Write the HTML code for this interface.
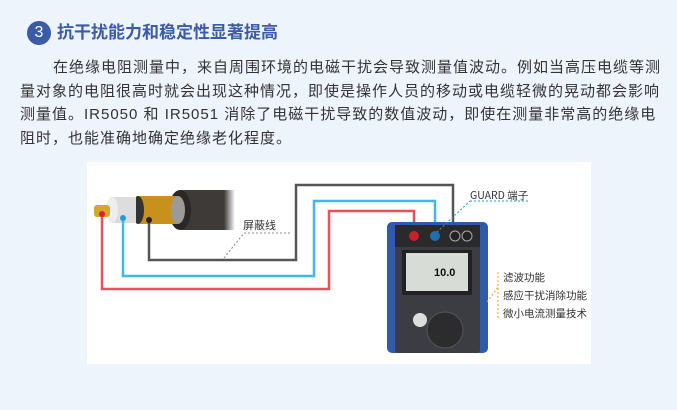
<!DOCTYPE html>
<html><head><meta charset="utf-8"><style>
body{margin:0;width:677px;height:410px;background:#eef4fc;font-family:"Liberation Sans","Noto Sans CJK SC",sans-serif;position:relative;overflow:hidden}
.c{position:absolute;left:27px;top:21px;width:24px;height:24px;border-radius:50%;background:#3b5aa8;color:#fff;font-size:16px;text-align:center;line-height:24px}
.t{position:absolute;left:57px;top:19px;font-size:17px;font-weight:bold;color:#3b5aa8;line-height:28px}
.p{position:absolute;left:20px;top:56px;font-size:15px;line-height:23.7px;color:#333;letter-spacing:1.0px;white-space:nowrap}
.panel{position:absolute;left:87px;top:162px;width:504px;height:202px;background:#fff}
</style></head><body>
<div class="c">3</div>
<div class="t">抗干扰能力和稳定性显著提高</div>
<div class="p"><span style="display:inline-block;width:33px"></span>在绝缘电阻测量中，来自周围环境的电磁干扰会导致测量值波动。例如当高压电缆等测<br>量对象的电阻很高时就会出现这种情况，即使是操作人员的移动或电缆轻微的晃动都会影响<br>测量值。IR5050 和 IR5051 消除了电磁干扰导致的数值波动，即使在测量非常高的绝缘电<br>阻时，也能准确地确定绝缘老化程度。</div>
<div class="panel"></div>
<svg width="677" height="410" style="position:absolute;left:0;top:0">
<defs><linearGradient id="fade" x1="0" x2="1"><stop offset="0.8" stop-color="#3d3a38"/><stop offset="1" stop-color="#3d3a38" stop-opacity="0"/></linearGradient></defs>
<rect x="180" y="190" width="55" height="40" fill="url(#fade)"/>
<ellipse cx="180" cy="210" rx="11" ry="20" fill="#2a2826"/>
<rect x="138" y="196" width="40" height="28" fill="#c8901c"/>
<ellipse cx="178" cy="210" rx="7" ry="14" fill="#9a9a9a"/>
<ellipse cx="138" cy="210" rx="6" ry="14" fill="#333"/>
<rect x="112" y="197" width="24" height="26" fill="#ddd"/>
<ellipse cx="112" cy="210" rx="6" ry="13" fill="#eee"/>
<rect x="94" y="205" width="16" height="12" rx="3" fill="#d4a92a"/>
<g fill="none" stroke-width="2.5">
<polyline points="149,222 149,260 296,260 296,185 453,185 453,225" stroke="#555"/>
<polyline points="123,218 123,276 314,276 314,201 435,201 435,235" stroke="#3fb8ec"/>
<polyline points="102,214 102,289 329,289 329,211 414,211 414,235" stroke="#e8525f"/>
</g>
<circle cx="102" cy="214" r="3" fill="#e02030"/><circle cx="123" cy="218" r="3" fill="#1a9ee0"/><circle cx="149" cy="220" r="3" fill="#222"/>
<line x1="224" y1="258" x2="244" y2="233" stroke="#888" stroke-dasharray="2,2"/>
<line x1="244" y1="233" x2="290" y2="233" stroke="#888" stroke-dasharray="2,2"/>
<text x="243" y="229" font-size="11" fill="#333" font-family="Noto Sans CJK SC">屏蔽线</text>
<rect x="387" y="222" width="101" height="131" rx="5" fill="#2e5ca8"/>
<rect x="395" y="225" width="85" height="128" rx="3" fill="#3b3d42"/>
<rect x="395" y="225" width="85" height="22" fill="#2a2a2c"/>
<circle cx="414" cy="236" r="5" fill="#c8202c"/><circle cx="435" cy="236" r="5" fill="#1f6fb0"/>
<circle cx="455" cy="236" r="5" fill="#222" stroke="#aaa"/><circle cx="467" cy="236" r="5" fill="#222" stroke="#aaa"/>
<rect x="402" y="250" width="70" height="45" fill="#222"/>
<rect x="406" y="253" width="62" height="38" fill="#d8dcd6"/>
<text x="434" y="276" font-size="11" font-weight="bold" fill="#111">10.0</text>
<circle cx="420" cy="320" r="7" fill="#ddd"/>
<circle cx="445" cy="330" r="18" fill="#2c2c2e" stroke="#555"/>
<line x1="437" y1="232" x2="470" y2="201" stroke="#1a9ee0" stroke-dasharray="2,2"/>
<line x1="470" y1="201" x2="528" y2="201" stroke="#1a9ee0" stroke-dasharray="2,2"/>
<text x="470" y="199" font-size="10.5" fill="#333" font-family="Noto Sans CJK SC">GUARD 端子</text>
<line x1="487" y1="302" x2="498" y2="287" stroke="#f0a020" stroke-dasharray="2,2"/>
<line x1="498" y1="272" x2="498" y2="318" stroke="#f0a020" stroke-dasharray="2,2"/>
<g font-size="10.5" fill="#333" font-family="Noto Sans CJK SC">
<text x="503" y="281">滤波功能</text><text x="503" y="299">感应干扰消除功能</text><text x="503" y="317">微小电流测量技术</text></g>
</svg>
</body></html>
